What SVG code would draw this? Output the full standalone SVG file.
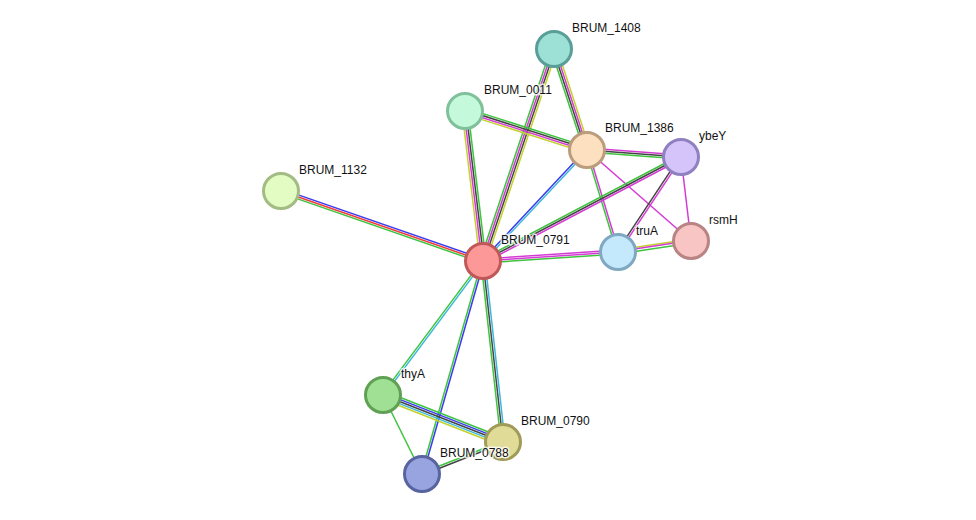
<svg xmlns="http://www.w3.org/2000/svg" width="976" height="520" viewBox="0 0 976 520">
<style>
line{stroke-width:1.5;fill:none}
.g{stroke:#3ec43e}.m{stroke:#d43bd4}.k{stroke:#444}.y{stroke:#c3d12f}.b{stroke:#3b3bf0}.c{stroke:#3ab7dc}.r{stroke:#f23a3a}
circle{stroke-width:3}
text{font-family:"Liberation Sans",Arial,sans-serif;font-size:12px;fill:#111;stroke:#fff;stroke-width:3;stroke-opacity:0.8;paint-order:stroke;stroke-linejoin:round}
</style>
<rect width="976" height="520" fill="#fff"/>
<g id="edges">
<!-- 1408-0791 -->
<g><line x1="554" y1="49" x2="483" y2="261" class="g" transform="translate(-2.84,-0.95)"/><line x1="554" y1="49" x2="483" y2="261" class="m" transform="translate(-0.95,-0.32)"/><line x1="554" y1="49" x2="483" y2="261" class="k" transform="translate(0.95,0.32)"/><line x1="554" y1="49" x2="483" y2="261" class="y" transform="translate(2.84,0.95)"/></g>
<!-- 1408-1386 -->
<g><line x1="554" y1="49" x2="587" y2="150" class="g" transform="translate(-2.85,0.93)"/><line x1="554" y1="49" x2="587" y2="150" class="k" transform="translate(-0.95,0.31)"/><line x1="554" y1="49" x2="587" y2="150" class="m" transform="translate(0.95,-0.31)"/><line x1="554" y1="49" x2="587" y2="150" class="y" transform="translate(2.85,-0.93)"/></g>
<!-- 0011-0791 -->
<g><line x1="465" y1="111" x2="483" y2="261" class="y" transform="translate(-2.98,0.36)"/><line x1="465" y1="111" x2="483" y2="261" class="m" transform="translate(-0.99,0.12)"/><line x1="465" y1="111" x2="483" y2="261" class="k" transform="translate(0.99,-0.12)"/><line x1="465" y1="111" x2="483" y2="261" class="g" transform="translate(2.98,-0.36)"/></g>
<!-- 0011-1386 -->
<g><line x1="465" y1="111" x2="587" y2="150" class="g" transform="translate(0.91,-2.86)"/><line x1="465" y1="111" x2="587" y2="150" class="k" transform="translate(0.30,-0.95)"/><line x1="465" y1="111" x2="587" y2="150" class="m" transform="translate(-0.30,0.95)"/><line x1="465" y1="111" x2="587" y2="150" class="y" transform="translate(-0.91,2.86)"/></g>
<!-- 1386-ybeY -->
<g><line x1="587" y1="150" x2="681" y2="157" class="m" transform="translate(0.15,-1.99)"/><line x1="587" y1="150" x2="681" y2="157" class="k"/><line x1="587" y1="150" x2="681" y2="157" class="g" transform="translate(-0.15,1.99)"/></g>
<!-- 1386-0791 -->
<g><line x1="587" y1="150" x2="483" y2="261" class="b" transform="translate(-0.73,-0.68)"/><line x1="587" y1="150" x2="483" y2="261" class="c" transform="translate(0.73,0.68)"/></g>
<!-- 1386-truA -->
<g><line x1="587" y1="150" x2="618" y2="252" class="g" transform="translate(-0.96,0.29)"/><line x1="587" y1="150" x2="618" y2="252" class="m" transform="translate(0.96,-0.29)"/></g>
<!-- 1386-rsmH -->
<line x1="587" y1="150" x2="691" y2="241" class="m"/>
<!-- ybeY-0791 -->
<g><line x1="681" y1="157" x2="483" y2="261" class="g" transform="translate(-0.93,-1.77)"/><line x1="681" y1="157" x2="483" y2="261" class="k"/><line x1="681" y1="157" x2="483" y2="261" class="m" transform="translate(0.93,1.77)"/></g>
<!-- ybeY-truA -->
<g><line x1="681" y1="157" x2="618" y2="252" class="k" transform="translate(-0.83,-0.55)"/><line x1="681" y1="157" x2="618" y2="252" class="m" transform="translate(0.83,0.55)"/></g>
<!-- ybeY-rsmH -->
<line x1="681" y1="157" x2="691" y2="241" class="m"/>
<!-- truA-0791 -->
<g><line x1="618" y1="252" x2="483" y2="261" class="m" transform="translate(-0.13,-2)"/><line x1="618" y1="252" x2="483" y2="261" class="m"/><line x1="618" y1="252" x2="483" y2="261" class="g" transform="translate(0.13,2)"/></g>
<!-- truA-rsmH -->
<g><line x1="618" y1="252" x2="691" y2="241" class="y" transform="translate(-0.3,-1.98)"/><line x1="618" y1="252" x2="691" y2="241" class="m" transform="translate(-0.1,-0.6)"/><line x1="618" y1="252" x2="691" y2="241" class="g" transform="translate(0.3,1.98)"/></g>
<!-- 1132-0791 -->
<g><line x1="281" y1="191" x2="483" y2="261" class="b" transform="translate(0.65,-1.89)"/><line x1="281" y1="191" x2="483" y2="261" class="r"/><line x1="281" y1="191" x2="483" y2="261" class="g" transform="translate(-0.65,1.89)"/></g>
<!-- thyA-0791 -->
<g><line x1="383" y1="395" x2="483" y2="261" class="g" transform="translate(-0.8,-0.6)"/><line x1="383" y1="395" x2="483" y2="261" class="c" transform="translate(0.8,0.6)"/></g>
<!-- 0788-0791 -->
<g><line x1="422" y1="474" x2="483" y2="261" class="g" transform="translate(-0.96,-0.28)"/><line x1="422" y1="474" x2="483" y2="261" class="b" transform="translate(0.96,0.28)"/></g>
<!-- 0790-0791 -->
<g><line x1="503" y1="442" x2="483" y2="261" class="g" transform="translate(-1.99,0.22)"/><line x1="503" y1="442" x2="483" y2="261" class="k"/><line x1="503" y1="442" x2="483" y2="261" class="c" transform="translate(1.99,-0.22)"/></g>
<!-- thyA-0790 -->
<g><line x1="383" y1="395" x2="503" y2="442" class="g" transform="translate(1.46,-3.72)"/><line x1="383" y1="395" x2="503" y2="442" class="b" transform="translate(0.73,-1.86)"/><line x1="383" y1="395" x2="503" y2="442" class="k"/><line x1="383" y1="395" x2="503" y2="442" class="c" transform="translate(-0.73,1.86)"/><line x1="383" y1="395" x2="503" y2="442" class="y" transform="translate(-1.46,3.72)"/></g>
<!-- thyA-0788 -->
<line x1="383" y1="395" x2="422" y2="474" class="g"/>
<!-- 0788-0790 -->
<g><line x1="422" y1="474" x2="503" y2="442" class="g" transform="translate(-0.37,-0.93)"/><line x1="422" y1="474" x2="503" y2="442" class="k" transform="translate(0.37,0.93)"/></g>
</g>
<g id="BRUM_1408"><circle cx="554" cy="49" r="17.5" fill="#9ce0d6" stroke="#5a9e98"/><text x="572" y="32">BRUM_1408</text></g>
<g id="BRUM_0011"><circle cx="465" cy="111" r="17.5" fill="#c4fadb" stroke="#80c09a"/><text x="484" y="94">BRUM_0011</text></g>
<g id="BRUM_1386"><circle cx="587" cy="150" r="17.5" fill="#fde0c0" stroke="#bb9c7c"/><text x="605" y="132">BRUM_1386</text></g>
<g id="ybeY"><circle cx="681" cy="157" r="17.5" fill="#d4c4fa" stroke="#9080c0"/><text x="699" y="140">ybeY</text></g>
<g id="BRUM_1132"><circle cx="281" cy="191" r="17.5" fill="#e2fcc4" stroke="#a2bc84"/><text x="299" y="174">BRUM_1132</text></g>
<g id="rsmH"><circle cx="691" cy="241" r="17.5" fill="#f8c4c4" stroke="#b88484"/><text x="709" y="224">rsmH</text></g>
<g id="truA"><circle cx="618" cy="252" r="17.5" fill="#c4e8fc" stroke="#80a8c0"/><text x="636" y="235">truA</text></g>
<g id="BRUM_0791"><circle cx="483" cy="261" r="17.5" fill="#fc9898" stroke="#c05858"/><text x="501" y="244">BRUM_0791</text></g>
<g id="thyA"><circle cx="383" cy="395" r="17.5" fill="#a0e094" stroke="#60a054"/><text x="401" y="378">thyA</text></g>
<g id="BRUM_0790"><circle cx="503" cy="442" r="17.5" fill="#e0dc98" stroke="#a09c58"/><text x="521" y="425">BRUM_0790</text></g>
<g id="BRUM_0788"><circle cx="422" cy="474" r="17.5" fill="#98a4e0" stroke="#5864a0"/><text x="440" y="457">BRUM_0788</text></g>
</svg>
